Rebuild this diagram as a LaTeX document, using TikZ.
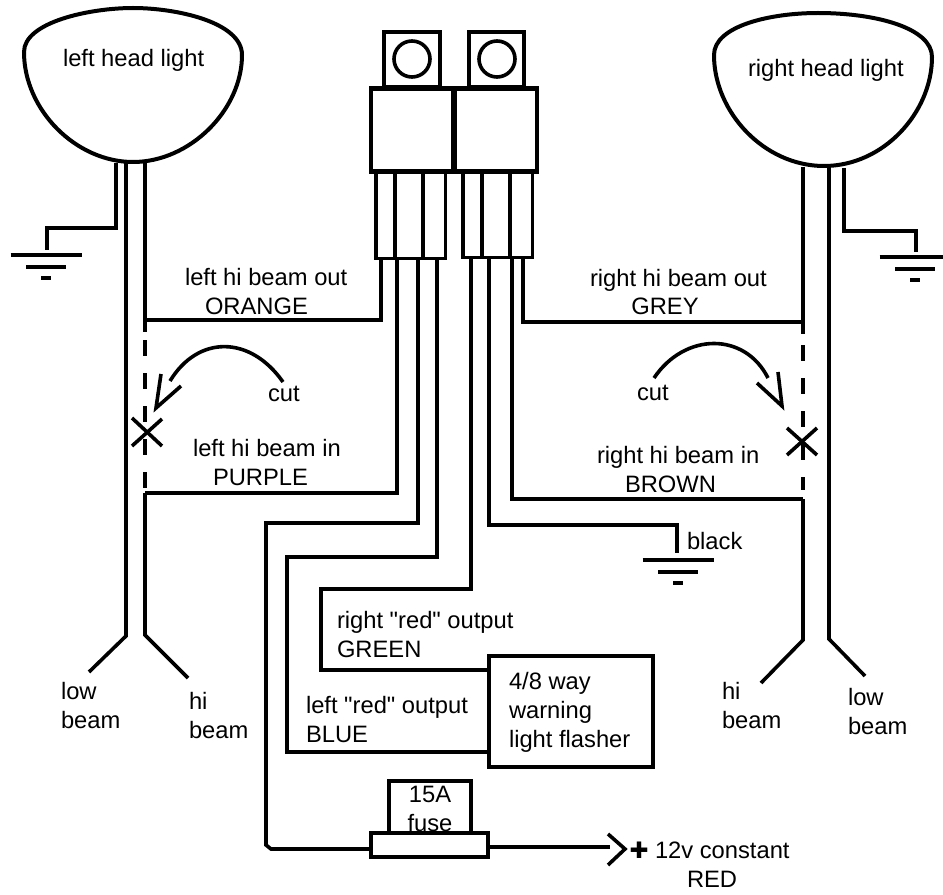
\documentclass[tikz,border=0pt]{standalone}
\usepackage{fontspec}
\setmainfont{Liberation Sans}[Ligatures=TeXOff]
\newfontfamily\symfont{DejaVu Sans}

\begin{document}
\begin{tikzpicture}[x=.75pt,y=-.75pt,
    wire/.style={line width=2.7pt},
    box/.style={shape=rectangle,draw=black,line width=3pt,inner sep=0,outer sep=0},
    txt/.style={anchor=base west,inner sep=0,outer sep=0,align=left,font=\fontsize{17.8}{21.6}\selectfont}]
    \useasboundingbox (0,0) rectangle (943,895);

    \draw[wire,line width=3pt] (24,52) .. controls (24,22) and (90,8) .. (133,8) .. controls (176,8) and (242,22) .. (242,55) .. controls (242,110) and (190,162) .. (133,162) .. controls (76,162) and (24,110) .. (24,52) -- cycle;
    \draw[wire,line width=3pt] (714,55) .. controls (714,26) and (770,13) .. (818,13) .. controls (876,13) and (932,28) .. (932,57) .. controls (932,112) and (884,166) .. (824,166) .. controls (764,166) and (714,112) .. (714,55) -- cycle;
    \node[txt] (lheadtxt) at (63,67) {left head light};
    \node[txt] (rheadtxt) at (748,77) {right head light};

    \node[box,minimum width=42pt,minimum height=41pt] (lcap) at (412,59.5) {};
    \node[box,minimum width=41.5pt,minimum height=41pt] (rcap) at (496.5,59.5) {};
    \node[shape=circle,draw=black,line width=2.7pt,inner sep=0,minimum size=27pt] (lring) at (412,59) {};
    \node[shape=circle,draw=black,line width=2.7pt,inner sep=0,minimum size=27pt] (rring) at (497,59) {};
    \node[box,line width=2.5pt,minimum width=52pt,minimum height=65pt] (lpins) at (410.5,215) {};
    \node[box,line width=2.5pt,minimum width=52pt,minimum height=65pt] (rpins) at (497.5,214) {};
    \node[box,line width=3.5pt,minimum width=61.5pt,minimum height=62pt] (lbody) at (412,130) {};
    \node[box,line width=3.5pt,minimum width=61.5pt,minimum height=62pt] (rbody) at (496,130) {};
    \foreach \x in {395,423} \draw[wire] (lpins.north -| \x,0) -- (lpins.south -| \x,0);
    \foreach \x in {482,510} \draw[wire] (rpins.north -| \x,0) -- (rpins.south -| \x,0);

    \foreach \n/\x in {1/381,2/397,3/418,4/437} \coordinate (lp\n) at (\x,258);
    \foreach \n/\x in {1/471,2/489,3/512,4/523} \coordinate (rp\n) at (\x,257);

    \node[box,minimum width=123pt,minimum height=83pt] (flasher) at (571,711.5) {};
    \node[box,minimum width=61.5pt,minimum height=39pt] (fusecap) at (430,807) {};
    \node[box,minimum width=87.75pt,minimum height=18pt] (fuse) at (429.5,845) {};

    \coordinate (lhi1) at (145,320);
    \coordinate (lhi2) at (145,493);
    \coordinate (rhi1) at (803,322);
    \coordinate (rhi2) at (803,499);
    \coordinate (red1) at (266,523);
    \coordinate (red2) at (266,845);
    \coordinate (red3) at (271,849);
    \coordinate (blu1) at (287,557);
    \coordinate (blu2) at (287,752);
    \coordinate (grn1) at (321,589);
    \coordinate (grn2) at (321,670);
    \coordinate (hot) at (610,847);
    \coordinate (blk1) at (677,525);
    \coordinate (blk2) at (677,553);

    \draw[wire] (lp1) |- (lhi1);
    \draw[wire] (lp2) |- (lhi2);
    \draw[wire] (lp3) |- (red1) -- (red2) -- (red3) -- (fuse.west |- red3);
    \draw[wire] (lp4) |- (blu1) -- (blu2) -- (flasher.west |- blu2);
    \draw[wire] (rp1) |- (grn1) -- (grn2) -- (flasher.west |- grn2);
    \draw[wire] (rp2) |- (blk1) -- (blk2);
    \draw[wire] (rp3) |- (rhi2);
    \draw[wire] (rp4) |- (rhi1);
    \draw[wire] (fuse.east |- hot) -- (hot);
    \draw[wire] (608,834) -- (625,849) -- (608,865);

    \draw[wire] (145,163) -- (145,332);
    \draw[wire] (126,163) -- (126,636) -- (89,672);
    \draw[wire] (lhi2) -- (145,635) -- (188,678);
    \draw[wire,dash pattern=on 12pt off 12.75pt] (145,340) -- (145,490);
    \draw[wire] (116,163) -- (116,228) -- (47,228) -- (47,250);

    \draw[wire] (803,167) -- (803,334);
    \draw[wire] (829,167) -- (829,639) -- (865,676);
    \draw[wire] (rhi2) -- (803,640) -- (761,683);
    \draw[wire,dash pattern=on 12pt off 12.75pt] (803,345) -- (803,490);
    \draw[wire] (844,168) -- (844,231) -- (916,231) -- (916,252);

    \foreach \x/\y/\w in {46/255/35.5,915/257/28,678/560/35.5}
    {
        \draw[wire] (\x-35.5,\y) -- (\x+\w,\y);
        \draw[wire] (\x-20,\y+12) -- (\x+20,\y+12);
        \draw[wire] (\x-5,\y+23) -- (\x+5,\y+23);
    }

    \draw[wire] (283,382) .. controls (250,335) and (198,335) .. (170,381);
    \draw[wire] (161,374) -- (156,408) -- (181,386);
    \draw[wire] (132,418) -- (162,446);
    \draw[wire] (162,419) -- (132,446);
    \draw[wire] (654,378) .. controls (685,332) and (745,332) .. (768,378);
    \draw[wire] (778,372) -- (782,406) -- (757,383);
    \draw[wire] (787,428) -- (817,455);
    \draw[wire] (817,428) -- (787,455);

    \node[txt] (lout) at (185,314) {left hi beam out\\\hspace*{15pt}ORANGE};
    \node[txt] (lin) at (193,485) {left hi beam in\\\hspace*{15pt}PURPLE};
    \node[txt] (lcut) at (268,401) {cut};
    \node[txt] (rout) at (590,315) {right hi beam out\\\hspace*{31pt}GREY};
    \node[txt] (rin) at (597,492) {right hi beam in\\\hspace*{21pt}BROWN};
    \node[txt] (rcut) at (637,400) {cut};
    \node[txt] (blktxt) at (687,549) {black};
    \node[txt] (grntxt) at (337,657) {right "red" output\\GREEN};
    \node[txt] (blutxt) at (306,742) {left "red" output\\BLUE};
    \node[txt] (flashtxt) at (509,747) {4/8 way\\warning\\light flasher};
    \node[txt,anchor=base,align=center] (fusetxt) at (430,831) {15A\\fuse};
    \node[txt,anchor=center,font=\fontsize{17}{20}\symfont] (plus) at (639,850) {✚};
    \node[txt] (hottxt) at (655,887) {12v constant\\\hspace*{24pt}RED};
    \node[txt] (llow) at (61,728) {low\\beam};
    \node[txt] (lhib) at (189,738) {hi\\beam};
    \node[txt] (rhib) at (722,728) {hi\\beam};
    \node[txt] (rlow) at (848,734) {low\\beam};
\end{tikzpicture}
\end{document}
